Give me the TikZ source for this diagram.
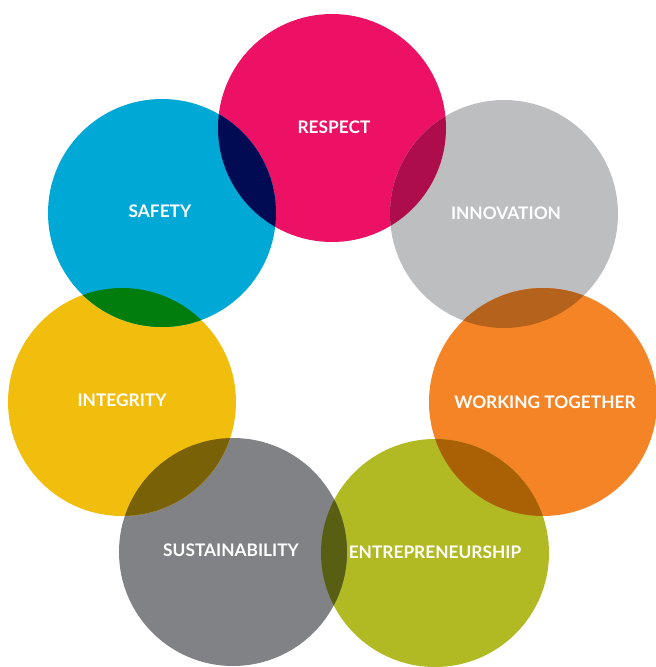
\documentclass[tikz,border=0pt]{standalone}
\usepackage{fontspec}
\setmainfont{Lato}
\definecolor{cResp}{RGB}{236,17,100}
\definecolor{cInno}{RGB}{188,190,192}
\definecolor{cWork}{RGB}{245,132,38}
\definecolor{cEntr}{RGB}{177,186,34}
\definecolor{cSust}{RGB}{128,130,133}
\definecolor{cInte}{RGB}{242,190,14}
\definecolor{cSafe}{RGB}{0,168,214}
\definecolor{oRI}{RGB}{174,13,75}
\definecolor{oIW}{RGB}{181,98,29}
\definecolor{oWE}{RGB}{170,96,5}
\definecolor{oES}{RGB}{89,95,18}
\definecolor{oSI}{RGB}{121,97,7}
\definecolor{oIS}{RGB}{0,125,12}
\definecolor{oSR}{RGB}{0,11,84}
\tikzset{lbl/.style={text=white,font=\bfseries\fontsize{17.3}{19}\selectfont,inner sep=0pt}}
\begin{document}
\begin{tikzpicture}[x=1pt,y=-1pt]
\useasboundingbox (0,0) rectangle (656,667);
\def\R{114}
\coordinate (pR) at (332,128);
\coordinate (pI) at (504,214);
\coordinate (pW) at (543,402);
\coordinate (pE) at (435,553);
\coordinate (pS) at (233,552);
\coordinate (pG) at (122,402);
\coordinate (pF) at (162,213);
\fill[cResp] (pR) circle (\R);
\fill[cInno] (pI) circle (\R);
\fill[cWork] (pW) circle (\R);
\fill[cEntr] (pE) circle (\R);
\fill[cSust] (pS) circle (\R);
\fill[cInte] (pG) circle (\R);
\fill[cSafe] (pF) circle (\R);
\begin{scope}\clip (pR) circle (\R); \fill[oRI] (pI) circle (\R);\end{scope}
\begin{scope}\clip (pI) circle (\R); \fill[oIW] (pW) circle (\R);\end{scope}
\begin{scope}\clip (pW) circle (\R); \fill[oWE] (pE) circle (\R);\end{scope}
\begin{scope}\clip (pE) circle (\R); \fill[oES] (pS) circle (\R);\end{scope}
\begin{scope}\clip (pS) circle (\R); \fill[oSI] (pG) circle (\R);\end{scope}
\begin{scope}\clip (pG) circle (\R); \fill[oIS] (pF) circle (\R);\end{scope}
\begin{scope}\clip (pF) circle (\R); \fill[oSR] (pR) circle (\R);\end{scope}
\node[lbl] (tR) at (334,127) {RESPECT};
\node[lbl] (tI) at (506,213) {INNOVATION};
\node[lbl] (tW) at (545,402) {WORKING TOGETHER};
\node[lbl] (tE) at (435,552) {ENTREPRENEURSHIP};
\node[lbl] (tS) at (231,550) {SUSTAINABILITY};
\node[lbl] (tG) at (122,400) {INTEGRITY};
\node[lbl] (tF) at (160,211) {SAFETY};
\end{tikzpicture}
\end{document}
